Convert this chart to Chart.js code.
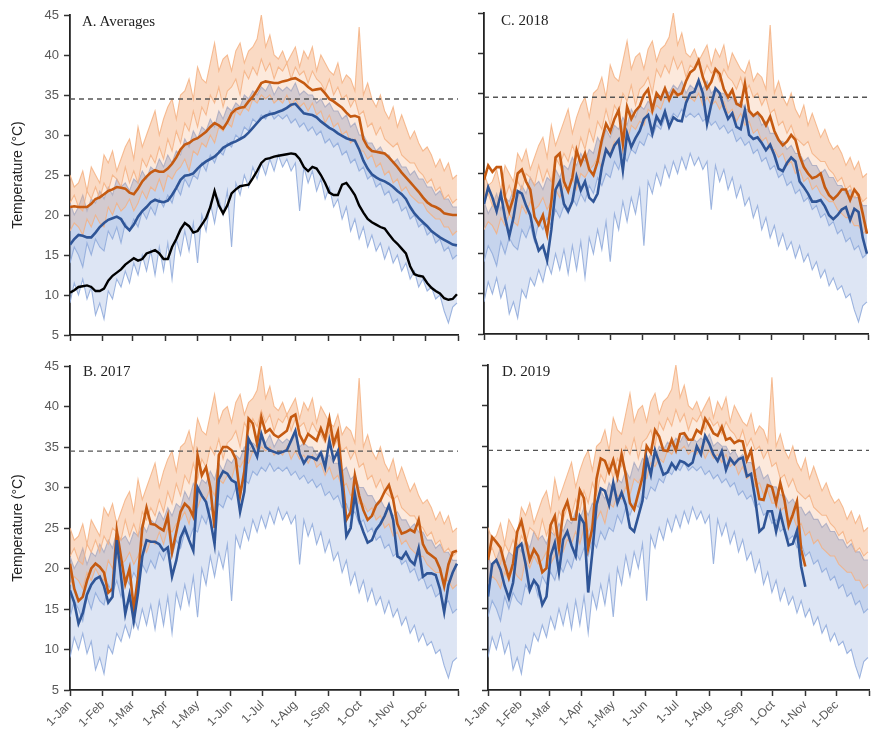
<!DOCTYPE html>
<html>
<head>
<meta charset="utf-8">
<script src="https://cdn.jsdelivr.net/npm/chart.js@4.4.0/dist/chart.umd.min.js"></script>
<style>
  body { margin: 0; background: #fff; }
  #wrap { position: relative; width: 877px; height: 741px; }
  .panel { position: absolute; }
  .tag { position: absolute; font-family: "Liberation Serif", serif; font-size: 15px; color: #222; line-height: 15px; }
</style>
</head>
<body>
<div id="wrap">
  <div class="panel" style="left:0;top:0;width:462px;height:350px"><canvas id="chartA"></canvas></div>
  <div class="panel" style="left:455px;top:0;width:418px;height:350px"><canvas id="chartC"></canvas></div>
  <div class="panel" style="left:0;top:351px;width:462px;height:390px"><canvas id="chartB"></canvas></div>
  <div class="panel" style="left:455px;top:350px;width:419px;height:391px"><canvas id="chartD"></canvas></div>
  <div class="tag" style="left:82px;top:14px">A. Averages</div>
  <div class="tag" style="left:501px;top:13px">C. 2018</div>
  <div class="tag" style="left:83px;top:364px">B. 2017</div>
  <div class="tag" style="left:502px;top:364px">D. 2019</div>
</div>
<script>
// x axis: day of year, one value every 4 days (day 0 = 1-Jan)
const STEP_DAYS = 4;
const MONTH_DAYS = [0, 31, 59, 90, 120, 151, 181, 212, 243, 273, 304, 334, 365];
const MONTH_LABELS = ['1-Jan', '1-Feb', '1-Mar', '1-Apr', '1-May', '1-Jun', '1-Jul', '1-Aug', '1-Sep', '1-Oct', '1-Nov', '1-Dec', ''];
const Y_TICKS = [5, 10, 15, 20, 25, 30, 35, 40, 45];
const THRESHOLD = 34.5;

// individual station records (light lines, same in every panel)
const stationMaxHigh = [
  25, 23.5, 24, 25.5, 23, 26, 25, 24, 27.5, 26.5, 28, 25.5, 27, 28.5, 29.5, 27, 31, 28.5, 30, 31.5, 33, 30, 32,
  33.5, 34.5, 32, 35, 35.5, 37, 34.5, 38.5, 37, 36.5, 39, 41.5, 38, 39.5, 40, 38, 40.5, 41.5, 39, 40.5, 41, 42, 45,
  41, 42.5, 40, 39.5, 40.5, 39, 40, 41, 38.5, 40.5, 39.5, 41, 38, 40, 39, 38, 37.5, 39, 36.5, 37.5, 37, 35.5, 43.5,
  35, 36.5, 34.5, 33.5, 35, 33, 32, 33.5, 31, 32.5, 31, 29.5, 30.5, 29, 28, 28.5, 27.5, 26, 27, 25.5, 26.5, 24.5, 25
];
const stationMaxMid = [
  21.5, 22.5, 21, 20.5, 23, 22, 23.5, 22, 24, 23, 25, 24.5, 23.5, 26, 24, 25.5, 24, 27, 26, 27.5, 26.5, 28.5, 27,
  29.5, 28, 30.5, 29, 31.5, 30.5, 33, 31, 33.5, 32.5, 35, 34, 36, 33.5, 35.5, 36, 37, 35, 38, 37, 38.5, 37.5, 39.5,
  38, 39, 37, 38.5, 38, 39, 37, 38.5, 37.5, 38, 36.5, 38, 37, 36.5, 35.5, 37, 35, 36, 34.5, 35, 33.5, 34.5, 32.5,
  33, 31, 31.5, 30, 31, 29.5, 29, 28.5, 29, 27.5, 27, 26.5, 26.5, 25.5, 25, 24, 24.5, 23, 23.5, 22, 22.5, 21.5, 22
];
const stationMaxLow = [
  18, 19, 18.5, 17.5, 19.5, 18.5, 20, 19, 18.5, 21, 20, 21.5, 20.5, 21, 22, 20.5, 21.5, 23, 22, 23.5, 23, 24.5, 23,
  25, 24.5, 25.5, 26, 27, 25.5, 28, 27.5, 29, 28.5, 30, 29, 31, 30.5, 31.5, 31, 33, 32.5, 33.5, 33, 34.5, 34, 35,
  34.5, 35, 34, 34.5, 34, 35, 33.5, 34.5, 33.5, 34, 33, 34, 32.5, 33, 31.5, 32.5, 31, 31.5, 30, 30.5, 29, 29.5, 28,
  28, 27, 27.5, 26, 26.5, 25, 25.5, 24, 24.5, 23, 23.5, 22.5, 22, 21.5, 21.5, 20.5, 20, 19.5, 19.5, 18.5, 18.5, 17.5, 18
];
const stationMinHigh = [
  21.5, 20, 21, 22.5, 20.5, 22, 21.5, 23, 22, 23.5, 22.5, 24.5, 23.5, 24, 23, 24.5, 24, 25.5, 24.5, 26, 25.5, 27, 26,
  27.5, 26.5, 28, 27.5, 29.5, 28.5, 30.5, 29.5, 31, 30.5, 32, 31, 33, 32, 33.5, 33, 34, 33.5, 35, 34.5, 35.5, 35, 36,
  35.5, 36.5, 35, 36, 35.5, 36, 35.5, 36.5, 35, 35.5, 35, 35, 34, 34.5, 33.5, 34, 33, 33, 32, 32.5, 31, 31.5, 30,
  30, 29, 29, 28, 28.5, 27.5, 27.5, 26.5, 27, 26, 26, 25, 25.5, 24.5, 24.5, 23.5, 23.5, 22.5, 23, 22, 22, 21, 21
];
const stationMinMid = [
  14, 16, 15, 13.5, 16.5, 15, 17, 16, 15.5, 18, 17, 18.5, 16.5, 19, 18, 19.5, 18.5, 20.5, 19.5, 21, 20, 22, 21,
  22.5, 21.5, 23.5, 22.5, 24.5, 23.5, 25, 24.5, 26.5, 25.5, 27.5, 26.5, 28, 27.5, 29, 28.5, 30, 29.5, 31, 30.5, 32, 31.5, 32.5,
  32, 33, 32, 32.5, 32, 32.5, 31.5, 32, 31, 31.5, 30.5, 31, 30, 30.5, 29, 29.5, 28.5, 29, 27.5, 28, 26.5, 27, 25.5,
  26, 24.5, 25, 23.5, 24, 22.5, 23, 21.5, 22, 20.5, 21, 19.5, 20, 18.5, 19, 17.5, 18, 16.5, 17, 15.5, 16, 14.5, 15
];
const stationMinLow = [
  9, 11.5, 10, 12, 9.5, 11, 7.5, 9, 7, 10.5, 9.5, 12, 11, 13, 11.5, 14, 12.5, 15, 13, 15.5, 12.5, 16, 13,
  16.5, 12, 17, 15, 18, 15.5, 19, 14, 20, 18, 21.5, 19, 22, 20, 23, 16, 24, 22.5, 25, 23.5, 26, 24.5, 26.5,
  25, 27, 25.5, 27.5, 26, 27, 25.5, 26.5, 20.5, 26, 24, 25.5, 23, 24.5, 22, 23.5, 21, 22, 19.5, 21, 18, 19.5, 17,
  18.5, 16, 17.5, 15.5, 16.5, 14.5, 16, 14, 15, 13, 14, 12, 13, 11, 12, 10.5, 11, 9.5, 10, 8, 6.5, 8.5, 9
];

// A. averages
const avgOrange = [
  21, 21.1, 21, 21, 21, 21.4, 22, 22.2, 22.6, 23, 23.2, 23.5, 23.4, 23.3, 22.8, 22.6, 23.3, 24.2, 24.8, 25.3, 25.6, 25.4, 25.4,
  25.8, 26.4, 27.2, 28.2, 28.8, 29, 29.4, 29.6, 30, 30.4, 31, 31.5, 31.2, 30.8, 31.6, 32.7, 33.2, 33.4, 33.5, 34.2, 34.8, 35.6, 36.5,
  36.7, 36.6, 36.5, 36.5, 36.7, 36.8, 37, 37.1, 36.8, 36.5, 36, 35.6, 35.7, 35.8, 35.2, 34.5, 34.2, 33.8, 33.4, 32.8, 32.3, 32.4, 32.2,
  29.5, 28.5, 28, 27.9, 27.8, 27.7, 27.2, 26.6, 26, 25.3, 24.7, 24.1, 23.5, 22.9, 22.2, 21.6, 21.2, 21, 20.7, 20.2, 20.1, 20, 20
];
const avgBlue = [
  16.3, 17, 17.5, 17.4, 17.2, 17.2, 17.8, 18.5, 19, 19.4, 19.6, 19.8, 19.5, 18.6, 18.1, 18.8, 19.8, 20.5, 21, 21.6, 21.9, 21.7, 21.6,
  21.8, 22.5, 23.4, 24.4, 24.9, 25, 25.2, 25.8, 26.3, 26.7, 27, 27.3, 27.8, 28.4, 28.7, 29, 29.2, 29.5, 29.8, 30.3, 30.9, 31.5, 32.1,
  32.4, 32.6, 32.7, 32.9, 33.1, 33.4, 33.8, 33.9, 33.3, 32.7, 32.6, 32.5, 32.2, 31.7, 31.3, 30.9, 30.6, 30.2, 29.9, 29.6, 29.4, 29.3, 28.2,
  26.8, 25.8, 25.1, 24.7, 24.4, 24.2, 23.9, 23.5, 23, 22.6, 22, 21, 20.2, 19.6, 19.1, 18.6, 18, 17.6, 17.2, 16.9, 16.6, 16.3, 16.2
];
const avgBlack = [
  10.3, 10.6, 11, 11.1, 11.2, 11, 10.5, 10.5, 10.8, 11.8, 12.4, 12.8, 13.2, 13.8, 14.2, 14.6, 14.3, 14.5, 15.2, 15.4, 15.6, 15.2, 14.5,
  14.5, 16, 17, 18.2, 19, 18.6, 17.8, 18, 18.8, 19.6, 21, 23, 21.2, 20.2, 21.2, 22.7, 23.2, 23.6, 23.7, 23.8, 24.6, 25.5, 26.5,
  27, 27.1, 27.3, 27.4, 27.5, 27.6, 27.7, 27.6, 27, 26, 25.5, 26, 25.8, 25, 24, 22.8, 22.5, 22.5, 23.8, 24, 23.3, 22.5, 21.2,
  20.3, 19.5, 19.1, 18.8, 18.5, 18.3, 17.6, 16.9, 16.4, 15.8, 15.2, 13.6, 12.6, 12.4, 12.3, 11.5, 10.9, 10.5, 10.2, 9.6, 9.4, 9.5, 10.1
];

// B. 2017
const orange2017 = [
  20.6, 17.5, 16, 16.5, 18.5, 20, 20.6, 20.2, 19.5, 17, 17.5, 24.7, 21.4, 18.1, 20, 15, 19, 25, 27.5, 25.5, 25.4, 25, 24.7,
  26.5, 22, 24.5, 27, 28, 27.5, 26.4, 34, 31.5, 32.5, 30, 25, 34, 35, 35, 34.6, 33.5, 29, 32, 38.5, 37.9, 35.4, 38.7,
  36.8, 37.2, 36.5, 36.2, 36.6, 37, 38.7, 39, 36.5, 35.5, 36.6, 36.2, 35.8, 37.3, 36, 38.5, 35.4, 36.9, 31.5, 26, 27, 31.5, 29,
  27.2, 26, 26.5, 27.8, 28.4, 29.5, 30.3, 28.5, 25.5, 24.3, 24.5, 24.8, 24.5, 26, 23, 22, 21.6, 21.2, 20, 17.8, 20.5, 22, 22.2
];
const blue2017 = [
  17.3, 15.8, 13.2, 14.5, 16.8, 18, 18.7, 19, 17.8, 15.8, 16.5, 23.5, 19, 14.4, 16.8, 13.5, 17, 21.5, 23.5, 23.3, 23.3, 23, 22.2,
  22.6, 19, 21, 23.8, 25, 23.5, 22.2, 30, 29, 28.2, 26, 23, 31, 32, 31.7, 30.9, 30.6, 27, 29.5, 36, 35, 33.8, 36.6,
  35, 34.6, 34.4, 34.2, 34.4, 34.6, 35.8, 37, 34.2, 33, 33.8, 33.7, 33.4, 34.3, 32.5, 35.8, 33.4, 34.5, 30, 24, 25, 29.2, 26,
  24.5, 23.2, 23.5, 24.8, 25.5, 26.5, 27.8, 26, 21.5, 21.2, 22, 21, 20.5, 22.5, 19, 19.4, 19.4, 19.2, 17.5, 14.6, 18, 19.5, 20.6
];

// C. 2018
const orange2018 = [
  24.2, 26, 25.2, 25.8, 25.8, 22, 20.3, 22, 25, 25.5, 24, 23, 19.6, 18.6, 19.8, 17.5, 21.5, 27, 27.5, 24, 22.8, 24.5, 27.9,
  26.2, 27.5, 25.5, 24.8, 26.5, 29.2, 31.2, 30.2, 31.8, 32.9, 28.7, 33.3, 31.8, 32.8, 33.4, 34.8, 35.5, 32.9, 35, 34.3, 35.6, 34.2, 35.4,
  34.8, 35, 36.5, 37.6, 38, 39.1, 37, 35.6, 36.4, 38, 37.4, 35.5, 34.5, 35.4, 33.7, 33.4, 36.2, 32.8, 32.2, 32.6, 32, 31, 32.1,
  30.3, 29.2, 28.5, 29, 29.8, 29.2, 27.2, 25.8, 25, 24.4, 24.6, 25, 23.3, 22.3, 21.8, 22.3, 23, 23, 21.7, 23, 22.3, 20, 17.5
];
const blue2018 = [
  21.2, 23.3, 22, 20.3, 22.5, 19.5, 17.2, 19.5, 22.8, 22.5, 21, 19.8, 17.1, 15.4, 16, 14.2, 18, 23, 24, 21.2, 20.3, 21.5, 24.6,
  22.9, 24, 22, 21.5, 22.5, 25.8, 28, 27.2, 28.5, 29.2, 25.4, 30, 28.3, 29.4, 30.3, 31.8, 32.3, 30, 32.1, 31.2, 32.7, 30.8, 32,
  31.6, 31.5, 33.8, 35, 35.2, 36.6, 35, 31.2, 33.6, 35.6, 35, 33.2, 31.8, 32.5, 30.8, 30.5, 32.9, 29.8, 29.3, 29.5, 28.8, 27.9, 28.6,
  27.3, 25.6, 25.3, 26.3, 27, 26.5, 24, 23.3, 22.5, 21.5, 21.5, 21.7, 20.9, 19.8, 19.3, 19.8, 20.5, 20.8, 19.2, 20.6, 20.2, 17, 15
];

// D. 2019 (series stop at the start of November)
const orange2019 = [
  21, 23.8, 23.2, 22.5, 20.5, 18.8, 20.6, 24.5, 25.8, 23.5, 21, 22.3, 21.5, 19.5, 20, 25.3, 26.4, 22.5, 27, 28.2, 26, 26, 29.6,
  28.6, 22.5, 25, 31, 33.5, 33.2, 31.8, 33.3, 31.2, 34, 31.5, 28, 27.2, 29.2, 31.2, 35, 34.2, 37, 36.2, 34.5, 34.4, 35.8, 34.5,
  36.5, 36.6, 35.8, 35.8, 37, 36.6, 38.4, 37.6, 36.6, 36.3, 37.4, 35.8, 36, 35.4, 35.7, 35.6, 33.3, 34.5, 31.2, 28.5, 28.4, 30.2, 30,
  28, 30.5, 28.4, 25.2, 26.6, 28.2, 22.3, 20.2, null, null, null, null, null, null, null, null, null, null, null, null, null, null, null
];
const blue2019 = [
  16.5, 20.5, 21, 19.8, 17.8, 16.3, 18.2, 22.5, 23, 20.5, 17.3, 18.5, 17.8, 15.5, 16.5, 21.5, 23.1, 19.5, 23.5, 24.5, 22.8, 21.5, 26.4,
  25.5, 17, 22, 27.8, 29.8, 29.5, 27.8, 30.5, 28, 29.3, 27.8, 25, 24.5, 26.4, 28.3, 33.5, 31.5, 34.5, 33, 31.5, 31.8, 32.9, 32.2,
  33.2, 33, 32.6, 33, 35, 34, 36.3, 35.3, 34, 33.2, 34.4, 32.1, 33.5, 32.8, 33.4, 33.6, 31.3, 31.6, 28.5, 24.5, 25, 27, 27,
  24.5, 26.8, 24.7, 22.8, 23, 24.6, 20.2, 17.7, null, null, null, null, null, null, null, null, null, null, null, null, null, null, null
];

const LIGHT_ORANGE = 'rgba(244, 177, 131, 0.85)';
const LIGHT_BLUE = 'rgba(142, 169, 219, 0.85)';
const BAND_ORANGE = 'rgba(244, 177, 131, 0.48)';
const BAND_ORANGE_SOFT = 'rgba(244, 177, 131, 0.28)';
const BAND_BLUE = 'rgba(142, 169, 219, 0.5)';
const BAND_BLUE_SOFT = 'rgba(142, 169, 219, 0.3)';
const DARK_ORANGE = '#C55A11';
const DARK_BLUE = '#2F5597';
const TICK_FONT = { family: 'Liberation Sans, Arial, sans-serif', size: 13 };

function toPoints(values) {
    return values.map((v, i) => ({ x: i * STEP_DAYS, y: v }));
}

function line(values, color, width, order, fillTo, fillColor) {
    return {
        data: toPoints(values),
        borderColor: color,
        borderWidth: width,
        backgroundColor: fillColor || color,
        pointRadius: 0,
        fill: fillTo || false,
        tension: 0,
        spanGaps: false,
        order: order
    };
}

function backgroundLines() {
    // station bands: dense core between high and mid line, thinner below
    // blue band goes underneath, orange band on top of it
    return [
        line(stationMinHigh, LIGHT_BLUE, 1.1, 10, '+1', BAND_BLUE),
        line(stationMinMid, LIGHT_BLUE, 1.1, 10, '+1', BAND_BLUE_SOFT),
        line(stationMinLow, LIGHT_BLUE, 1.1, 10),
        line(stationMaxHigh, LIGHT_ORANGE, 1.1, 9, '+1', BAND_ORANGE),
        line(stationMaxMid, LIGHT_ORANGE, 1.1, 9, '+1', BAND_ORANGE_SOFT),
        line(stationMaxLow, LIGHT_ORANGE, 1.1, 9),
        {
            data: [{ x: 0, y: THRESHOLD }, { x: 365, y: THRESHOLD }],
            borderColor: '#555',
            borderWidth: 1.3,
            borderDash: [5, 4],
            pointRadius: 0,
            fill: false,
            order: 5
        }
    ];
}

function makePanel(id, opts) {
    const ctx = document.getElementById(id);
    if (!ctx) return;

    const datasets = backgroundLines().concat(opts.main);

    return new Chart(ctx, {
        type: 'line',
        data: { datasets: datasets },
        options: {
            responsive: true,
            maintainAspectRatio: false,
            animation: false,
            layout: { padding: { top: opts.padTop, right: opts.padRight, left: 0, bottom: 0 } },
            plugins: {
                legend: { display: false },
                tooltip: { enabled: false }
            },
            scales: {
                x: {
                    type: 'linear',
                    min: 0,
                    max: 365,
                    afterBuildTicks: s => { s.ticks = MONTH_DAYS.map(v => ({ value: v })); },
                    afterFit: s => {
                        s.height = opts.xHeight;
                        s.paddingLeft = 0;
                        s.paddingRight = 0;
                    },
                    ticks: {
                        autoSkip: false,
                        minRotation: 45,
                        maxRotation: 45,
                        padding: 2,
                        color: '#595959',
                        font: { family: TICK_FONT.family, size: 12 },
                        callback: (v, i) => opts.xLabels ? MONTH_LABELS[i] : ''
                    },
                    grid: { drawOnChartArea: false, drawTicks: true, tickLength: 6, tickColor: '#333', tickWidth: 1.5 },
                    border: { color: '#222', width: 1.8 }
                },
                y: {
                    min: 5,
                    max: 45,
                    afterBuildTicks: s => { s.ticks = Y_TICKS.map(v => ({ value: v })); },
                    afterFit: s => { s.width = opts.yWidth; },
                    ticks: {
                        color: '#595959',
                        font: TICK_FONT,
                        padding: 5,
                        callback: v => opts.yLabels ? v : ''
                    },
                    grid: { drawOnChartArea: false, drawTicks: true, tickLength: 6, tickColor: '#333', tickWidth: 1.5 },
                    border: { color: '#222', width: 1.8 },
                    title: {
                        display: opts.yLabels,
                        text: 'Temperature (°C)',
                        color: '#222',
                        font: { family: TICK_FONT.family, size: 14 },
                        padding: { top: 10, bottom: 0 }
                    }
                }
            }
        }
    });
}

makePanel('chartA', {
    padTop: 15, padRight: 4, xHeight: 15, yWidth: 70, xLabels: false, yLabels: true,
    main: [
        line(avgOrange, DARK_ORANGE, 2.6, 3),
        line(avgBlue, DARK_BLUE, 2.6, 2),
        line(avgBlack, '#000', 2.4, 1)
    ]
});

makePanel('chartC', {
    padTop: 13, padRight: 5, xHeight: 16, yWidth: 29, xLabels: false, yLabels: false,
    main: [
        line(orange2018, DARK_ORANGE, 2.6, 3),
        line(blue2018, DARK_BLUE, 2.6, 2)
    ]
});

makePanel('chartB', {
    padTop: 15, padRight: 4, xHeight: 51, yWidth: 70, xLabels: true, yLabels: true,
    main: [
        line(orange2017, DARK_ORANGE, 2.6, 3),
        line(blue2017, DARK_BLUE, 2.6, 2)
    ]
});

makePanel('chartD', {
    padTop: 15, padRight: 5, xHeight: 51, yWidth: 33, xLabels: true, yLabels: false,
    main: [
        line(orange2019, DARK_ORANGE, 2.6, 3),
        line(blue2019, DARK_BLUE, 2.6, 2)
    ]
});
</script>
</body>
</html>
